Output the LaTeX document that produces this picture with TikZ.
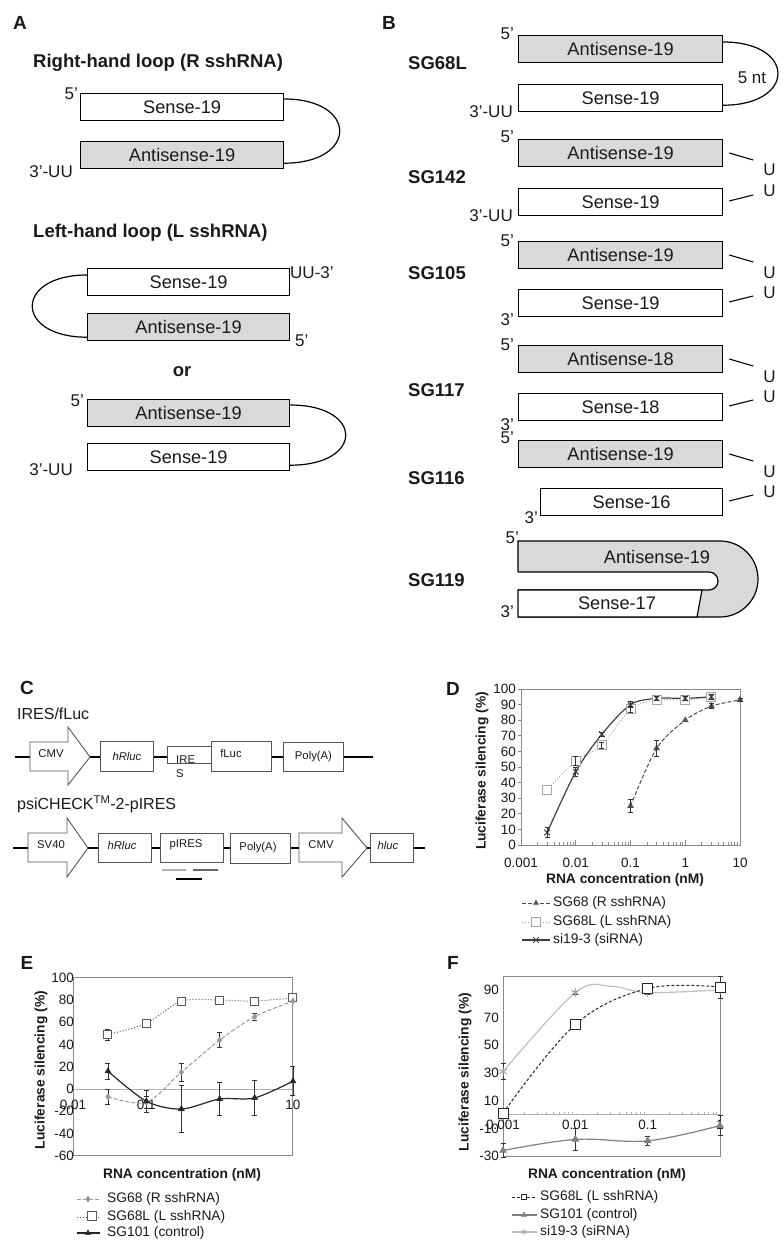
\documentclass[tikz,border=0pt]{standalone}
\usepackage{fontspec}
\setmainfont{Liberation Sans}
\usetikzlibrary{plotmarks,calc}
\definecolor{asg}{HTML}{D9D9D9}
\definecolor{txt}{HTML}{1A1A1A}
\definecolor{frmc}{HTML}{8A8A8A}
\definecolor{cgr}{HTML}{555555}
\newcommand\myBox{\fontsize{18.2}{20}\selectfont}
\newcommand\myLab{\fontsize{18.5}{20}\selectfont\bfseries}
\newcommand\myEnd{\fontsize{17}{19}\selectfont}
\newcommand\myCon{\fontsize{11.3}{13}\selectfont}
\newcommand\myName{\fontsize{16}{18}\selectfont}
\newcommand\myTick{\fontsize{13.5}{15}\selectfont}
\newcommand\myAx{\fontsize{13.8}{15}\selectfont\bfseries}
\newcommand\myLeg{\fontsize{13.8}{15}\selectfont}
\newcommand\myPan{\fontsize{19}{21}\selectfont\bfseries}
\newcommand\ebar[3]{\draw[errb] ([xshift=-2.5pt]#1,#2-#3) -- ([xshift=2.5pt]#1,#2-#3) ([xshift=-2.5pt]#1,#2+#3) -- ([xshift=2.5pt]#1,#2+#3) (#1,#2-#3) -- (#1,#2+#3);}
\newcommand\uDown[1]{\draw[uline] ([xshift=6pt,yshift=-14pt]#1.north east) -- ([xshift=30pt,yshift=-21pt]#1.north east);
  \node[endl, anchor=base west] at ([xshift=40pt,yshift=-37pt]#1.north east) {U};}
\newcommand\uUp[1]{\draw[uline] ([xshift=6pt,yshift=-13pt]#1.north east) -- ([xshift=30pt,yshift=-7pt]#1.north east);
  \node[endl, anchor=base west] at ([xshift=40pt,yshift=-9pt]#1.north east) {U};}
\tikzset{
  box/.style={draw=black, line width=1.2pt, minimum height=27pt, inner sep=0pt, anchor=north west, font=\myBox},
  asbox/.style={box, fill=asg, minimum width=204pt},
  ssbox/.style={box, fill=white, minimum width=204pt},
  loopl/.style={line width=1.2pt},
  endl/.style={font=\myEnd},
  uline/.style={line width=1.1pt},
  sglab/.style={font=\myLab, anchor=west},
  pan/.style={font=\myPan},
  cbox/.style={draw=cgr, line width=0.9pt, fill=white, inner sep=0pt, anchor=north west, font=\myCon},
  arrowbox/.style={draw=cgr, line width=0.9pt, fill=white},
  bb/.style={line width=2pt},
  frm/.style={draw=frmc, line width=1pt},
  zl/.style={draw=black!30, line width=0.9pt},
  errb/.style={draw=black!80, line width=0.8pt, solid},
  tick/.style={font=\myTick},
  legt/.style={font=\myLeg, anchor=west},
  dA/.style={draw=black!70, line width=1pt, dash pattern=on 4pt off 2pt},
  dB/.style={draw=black!35, line width=1pt, dotted},
  dC/.style={draw=black!75, line width=1.2pt},
  eA/.style={draw=black!40, line width=1pt, dash pattern=on 4pt off 2pt},
  eB/.style={draw=black!65, line width=1pt, dotted},
  eC/.style={draw=black!85, line width=1.2pt},
  fA/.style={draw=black!85, line width=1pt, dash pattern=on 3pt off 2pt},
  fB/.style={draw=black!50, line width=1.2pt},
  fC/.style={draw=black!25, line width=1.2pt},
}
\begin{document}
\begin{tikzpicture}[x=1pt,y=-1pt, every node/.append style={text=txt, inner sep=0pt}]
\useasboundingbox (0,0) rectangle (782,1241);

% ================= Panel A =================
\node[pan] (labA) at (20,23) {A};
\node[sglab] (tA1) at (33,63) {Right-hand loop (R sshRNA)};
\node[ssbox, minimum width=203pt] (s1) at (80,93) {Sense-19};
\node[asbox, minimum width=203pt] (a1) at (80,141) {Antisense-19};
\node[endl, anchor=base east] (e1) at (78,100) {5'};
\node[endl, anchor=base east] (e2) at (73,178) {3'-UU};
\draw[loopl] ([yshift=-6pt]s1.north east) .. controls +(74,0) and +(74,0) .. ([yshift=6pt]a1.south east);

\node[sglab] (tA2) at (33,233) {Left-hand loop (L sshRNA)};
\node[ssbox, minimum width=202pt] (s2) at (87,268) {Sense-19};
\node[asbox, minimum width=202pt] (a2) at (87,313) {Antisense-19};
\node[endl, anchor=base west] (e3) at (290,278) {UU-3'};
\node[endl, anchor=base west] (e4) at (295,346) {5'};
\draw[loopl] ([yshift=-7pt]s2.north west) .. controls +(-73,0) and +(-73,0) .. ([yshift=4pt]a2.south west);
\node[font=\myLab] (or) at (182,372) {or};
\node[asbox, minimum width=202pt] (a3) at (87,399) {Antisense-19};
\node[ssbox, minimum width=202pt] (s3) at (87,443) {Sense-19};
\node[endl, anchor=base east] (e5) at (84,406) {5'};
\node[endl, anchor=base east] (e6) at (73,475) {3'-UU};
\draw[loopl] ([yshift=-6pt]a3.north east) .. controls +(74,0) and +(74,0) .. ([yshift=6pt]s3.south east);

% ================= Panel B =================
\node[pan] (labB) at (389,23) {B};
% SG68L
\node[sglab] (n1) at (408,63) {SG68L};
\node[asbox] (b1a) at (518,35) {Antisense-19};
\node[ssbox] (b1s) at (518,84) {Sense-19};
\node[endl, anchor=base east] at (514,40) {5'};
\node[endl, anchor=base east] at (513,118) {3'-UU};
\draw[loopl] ([yshift=-7pt]b1a.north east) .. controls +(73,0) and +(73,0) .. ([yshift=7pt]b1s.south east);
\node[endl] (nt) at (752,78) {5 nt};
% SG142
\node[sglab] (n2) at (408,177) {SG142};
\node[asbox] (b2a) at (518,139) {Antisense-19};
\node[ssbox] (b2s) at (518,188) {Sense-19};
\node[endl, anchor=base east] at (514,143) {5'};
\node[endl, anchor=base east] at (513,222) {3'-UU};
\uDown{b2a}
\uUp{b2s}
% SG105
\node[sglab] (n3) at (408,273) {SG105};
\node[asbox] (b3a) at (518,241) {Antisense-19};
\node[ssbox] (b3s) at (518,289) {Sense-19};
\node[endl, anchor=base east] at (514,247) {5'};
\node[endl, anchor=base east] at (514,325) {3'};
\uDown{b3a}
\uUp{b3s}
% SG117
\node[sglab] (n4) at (408,390) {SG117};
\node[asbox] (b4a) at (518,345) {Antisense-18};
\node[ssbox] (b4s) at (518,393) {Sense-18};
\node[endl, anchor=base east] at (514,350) {5'};
\node[endl, anchor=base east] at (514,430) {3'};
\uDown{b4a}
\uUp{b4s}
% SG116
\node[sglab] (n5) at (408,478) {SG116};
\node[asbox] (b5a) at (518,440) {Antisense-19};
\node[ssbox, minimum width=182pt] (b5s) at (540,488) {Sense-16};
\node[endl, anchor=base east] at (514,443) {5'};
\node[endl, anchor=base east] at (538,523) {3'};
\uDown{b5a}
\uUp{b5s}
% SG119
\node[sglab] (n6) at (408,580) {SG119};
\fill[asg] (518,541) -- (720,541) arc[start angle=90, end angle=-90, radius=38pt] -- (518,617) -- cycle;
\fill[white] (518,572) -- (709,572) arc[start angle=90, end angle=-90, radius=9pt] -- (518,590) -- cycle;
\draw[line width=1.2pt] (518,572) -- (518,541) -- (720,541) arc[start angle=90, end angle=-90, radius=38pt] -- (518,617);
\draw[line width=1.2pt] (518,572) -- (709,572) arc[start angle=90, end angle=-90, radius=9pt] -- (518,590);
\filldraw[fill=white, line width=1.2pt] (518,590) -- (702,590) -- (697,617) -- (518,617) -- cycle;
\node[font=\myBox] (b6a) at (657,557) {Antisense-19};
\node[font=\myBox] (b6s) at (617,603) {Sense-17};
\node[endl, anchor=base east] at (519,543) {5'};
\node[endl, anchor=base east] at (514,617) {3'};

% ================= Panel C =================
\node[pan] (labC) at (27,688) {C};
\node[font=\myName, anchor=west] (c1) at (17,714) {IRES/fLuc};
\draw[bb] (15,757) -- (373,757);
\filldraw[arrowbox] (30,742) -- (68,742) -- (68,727) -- (90,757) -- (68,785) -- (68,771) -- (30,771) -- cycle;
\node[font=\myCon] (cmv1) at (51,754) {CMV};
\node[cbox, minimum width=53pt, minimum height=30pt] (hr1) at (100,741) {\itshape hRluc};
\node[cbox, minimum width=44pt, minimum height=17pt] (ires1) at (167,746) {};
\node[font=\myCon, anchor=base west] (ireA) at (176,763) {IRE};
\node[font=\myCon, anchor=base west] (ireB) at (176,777) {S};
\node[cbox, minimum width=60pt, minimum height=30pt] (fl1) at (211,741) {};
\node[font=\myCon] (flt) at (231,753) {fLuc};
\node[cbox, minimum width=60pt, minimum height=29pt] (pa1) at (283,742) {Poly(A)};

\node[font=\myName, anchor=west] (c2) at (17,804) {psiCHECK\textsuperscript{TM}-2-pIRES};
\draw[bb] (13,848) -- (425,848);
\filldraw[arrowbox] (28,833) -- (67,833) -- (67,818) -- (88,848) -- (67,877) -- (67,862) -- (28,862) -- cycle;
\node[font=\myCon] (sv40) at (51,845) {SV40};
\node[cbox, minimum width=53pt, minimum height=29pt] (hr2) at (98,833) {};
\node[font=\myCon] (hr2t) at (122,845) {\itshape hRluc};
\node[cbox, minimum width=63pt, minimum height=29pt] (pires) at (160,833) {};
\node[font=\myCon] (pirest) at (186,845) {pIRES};
\node[cbox, minimum width=60pt, minimum height=30pt] (pa2) at (230,833) {};
\node[font=\myCon] (pa2t) at (258,848) {Poly(A)};
\filldraw[arrowbox] (299,833) -- (342,833) -- (342,818) -- (367,848) -- (342,877) -- (342,862) -- (299,862) -- cycle;
\node[font=\myCon] (cmv2) at (321,845) {CMV};
\node[cbox, minimum width=43pt, minimum height=29pt] (hl) at (370,833) {};
\node[font=\myCon] (hlt) at (388,845) {\itshape hluc};
\draw[line width=2pt, black!30] (162,870) -- (186,870);
\draw[line width=2pt, black!60] (193,870) -- (218,870);
\draw[line width=2pt, black] (176,879) -- (202,879);

% ================= Panel D =================
\node[pan] (labD) at (453,689) {D};
\begin{scope}[shift={(521,845)}, x=54.75pt, y=1.56pt]
  \draw[frm] (0,0) rectangle (4,100);
  \foreach \v in {0,10,...,100} {
    \draw[frm] (0,\v) -- ++(-3pt,0);
    \node[tick, anchor=east] at ([xshift=-5pt]0,\v) {\v};
  }
  \foreach \d/\lab in {0/0.001,1/0.01,2/0.1,3/1,4/10} \node[tick] at (\d,-11.5) {\lab};
  \foreach \d in {0,1,2,3} {
    \foreach \k in {2,...,9} \draw[frm, line width=0.7pt] ({\d+log10(\k)},0) -- ++(0,3pt);
  }
  \foreach \d in {1,2,3} \draw[frm] (\d,0) -- ++(0,5pt);
  % SG68L (dotted, squares)
  \draw[dB] plot[smooth, tension=0.5] coordinates {(0.477,35) (1,54) (1.477,64) (2,87) (2.477,93) (3,93) (3.477,95)};
  % si19-3 (solid, x)
  \draw[dC] plot[smooth, tension=0.5] coordinates {(0.477,8) (1,47) (1.477,71) (2,90) (2.477,94) (3,94) (3.477,95)};
  % SG68 (dashed, triangles)
  \draw[dA] plot[smooth, tension=0.5] coordinates {(2,25) (2.477,62) (3,80) (3.477,89) (4,93)};
  \draw plot[only marks, mark=square*, mark size=4.5pt, mark options={fill=white, draw=black!35, line width=1pt, solid}] coordinates {(0.477,35) (1,54) (1.477,64) (2,87) (2.477,93) (3,93) (3.477,95)};
  \draw plot[only marks, mark=x, mark size=4pt, mark options={draw=black!75, line width=1pt, solid}] coordinates {(0.477,8) (1,47) (1.477,71) (2,90) (2.477,94) (3,94) (3.477,95)};
  \draw plot[only marks, mark=triangle*, mark size=3.5pt, mark options={fill=black!65, draw=black!65, solid}] coordinates {(2,25) (2.477,62) (3,80) (3.477,89) (4,93)};
  \ebar{0.477}{8}{3} \ebar{1}{47}{3} \ebar{1}{54}{3} \ebar{1.477}{64}{2} \ebar{1.477}{71}{1.5}
  \ebar{2}{90}{2} \ebar{2}{87}{2} \ebar{2.477}{94}{1} \ebar{3}{94}{1} \ebar{3.477}{95}{1.5}
  \ebar{2}{25}{4} \ebar{2.477}{62}{5} \ebar{3.477}{89}{1.5} \ebar{4}{93}{1}
\end{scope}
\node[font=\myAx, rotate=90] (dyl) at (482,771) {Luciferase silencing (\%)};
\node[font=\myAx] (dxl) at (625,880) {RNA concentration (nM)};
\draw[dA] (522,903) -- (550,903);
\draw plot[only marks, mark=triangle*, mark size=3pt, mark options={fill=black!65, draw=black!65, solid}] coordinates {(536,903)};
\node[legt] at (553,903) {SG68 (R sshRNA)};
\draw[dB] (522,922) -- (550,922);
\draw plot[only marks, mark=square*, mark size=4.5pt, mark options={fill=white, draw=black!35, line width=1pt, solid}] coordinates {(536,922)};
\node[legt] at (553,922) {SG68L (L sshRNA)};
\draw[dC] (522,940) -- (550,940);
\draw plot[only marks, mark=x, mark size=4pt, mark options={draw=black!75, line width=1pt, solid}] coordinates {(536,940)};
\node[legt] at (553,940) {si19-3 (siRNA)};

% ================= Panel E =================
\node[pan] (labE) at (27,963) {E};
\begin{scope}[shift={(73,1089)}, x=73.33pt, y=1.1125pt]
  \draw[zl] (0,0) -- (3,0);
  \draw[frm] (0,-60) rectangle (3,100);
  \foreach \v in {-60,-40,...,100} \node[tick, anchor=east] at ([xshift=1pt]0,\v) {\v};
  \node[tick] at (0,-14.4) {0.01};
  \node[tick] at (1,-14.4) {0.1};
  \node[tick] at (3,-14.4) {10};
  % SG68L dotted squares
  \draw[eB] plot[smooth, tension=0.5] coordinates {(0.477,49) (1,59) (1.477,79) (2,80) (2.477,79) (3,82)};
  % SG68 dashed diamonds
  \draw[eA] plot[smooth, tension=0.5] coordinates {(0.477,-7) (1,-12) (1.477,15) (2,44) (2.477,65) (3,79)};
  % SG101 solid triangles
  \draw[eC] plot[smooth, tension=0.5] coordinates {(0.477,16) (1,-11) (1.477,-18) (2,-9) (2.477,-8) (3,7)};
  \ebar{0.477}{16}{7} \ebar{1}{-11}{10} \ebar{1.477}{-18}{21} \ebar{2}{-9}{15} \ebar{2.477}{-8}{16} \ebar{3}{7}{13}
  \ebar{0.477}{-7}{7} \ebar{1}{-12}{5} \ebar{1.477}{15}{8} \ebar{2}{44}{7} \ebar{2.477}{65}{3}
  \ebar{0.477}{49}{5} \ebar{1}{59}{2} \ebar{1.477}{79}{2} \ebar{2}{80}{2} \ebar{2.477}{79}{2} \ebar{3}{82}{3}
  \draw plot[only marks, mark=square*, mark size=4pt, mark options={fill=white, draw=black!65, line width=1pt, solid}] coordinates {(0.477,49) (1,59) (1.477,79) (2,80) (2.477,79) (3,82)};
  \draw plot[only marks, mark=diamond*, mark size=3pt, mark options={fill=black!40, draw=black!40, solid}] coordinates {(0.477,-7) (1,-12) (1.477,15) (2,44) (2.477,65) (3,79)};
  \draw plot[only marks, mark=triangle*, mark size=3.5pt, mark options={fill=black!85, draw=black!85, solid}] coordinates {(0.477,16) (1,-11) (1.477,-18) (2,-9) (2.477,-8) (3,7)};
\end{scope}
\node[font=\myAx, rotate=90] (eyl) at (41,1070) {Luciferase silencing (\%)};
\node[font=\myAx] (exl) at (182,1175) {RNA concentration (nM)};
\draw[eA] (77,1199) -- (100,1199);
\draw plot[only marks, mark=diamond*, mark size=3pt, mark options={fill=black!40, draw=black!40, solid}] coordinates {(88,1199)};
\node[legt] at (107,1199) {SG68 (R sshRNA)};
\draw[eB] (77,1217) -- (100,1217);
\draw plot[only marks, mark=square*, mark size=4.5pt, mark options={fill=white, draw=black!65, line width=1pt, solid}] coordinates {(92,1216)};
\node[legt] at (107,1217) {SG68L (L sshRNA)};
\draw[eC] (77,1233) -- (100,1233);
\draw plot[only marks, mark=triangle*, mark size=3pt, mark options={fill=black!85, draw=black!85, solid}] coordinates {(88,1233)};
\node[legt] at (107,1233) {SG101 (control)};

% ================= Panel F =================
\node[pan] (labF) at (453,963) {F};
\begin{scope}[shift={(503,1114.5)}, x=72.33pt, y=1.385pt]
  \draw[zl] (0,0) -- (3,0);
  \foreach \d in {0,1,2} {
    \foreach \k in {2,...,9} \draw[zl, line width=0.6pt] ({\d+log10(\k)},0) -- ++(0,3pt);
  }
  \draw[frm] (0,-30) rectangle (3,100);
  \foreach \v in {90,70,50,30,10,-10,-30} \node[tick, anchor=east] at ([xshift=-4pt]0,\v) {\v};
  \node[tick] at (0,-7.6) {0.001};
  \node[tick] at (1,-7.6) {0.01};
  \node[tick] at (2,-7.6) {0.1};
  \node[tick] at (3,-7.6) {1};
  % si19-3 light
  \draw[fC] plot[smooth, tension=0.6] coordinates {(0,31) (1,88) (1.5,92.5) (2,88) (3,90)};
  % SG68L dashed squares
  \draw[fA] plot[smooth, tension=0.6] coordinates {(0,1) (1,65) (2,91) (3,92)};
  % SG101 solid gray triangles
  \draw[fB] plot[smooth, tension=0.6] coordinates {(0,-26) (1,-18) (2,-19) (3,-8)};
  \ebar{0}{31}{6} \ebar{0}{-26}{5} \ebar{1}{-18}{8} \ebar{2}{-19}{3} \ebar{3}{-8}{7} \ebar{3}{92}{8} \ebar{1}{88}{1} \ebar{2}{88}{1.5}
  \draw plot[only marks, mark=asterisk, mark size=4.5pt, mark options={draw=black!35, line width=1pt, solid}] coordinates {(0,31) (1,88) (2,88) (3,90)};
  \draw plot[only marks, mark=square*, mark size=5pt, mark options={fill=white, draw=black!85, line width=1pt, solid}] coordinates {(0,1) (1,65) (2,91) (3,92)};
  \draw plot[only marks, mark=triangle*, mark size=4pt, mark options={fill=black!50, draw=black!50, solid}] coordinates {(0,-26) (1,-18) (2,-19) (3,-8)};
\end{scope}
\node[font=\myAx, rotate=90] (fyl) at (465,1072) {Luciferase silencing (\%)};
\node[font=\myAx] (fxl) at (607,1175) {RNA concentration (nM)};
\draw[fA] (512,1197) -- (537,1197);
\draw plot[only marks, mark=square*, mark size=2.5pt, mark options={fill=white, draw=black!85, line width=0.8pt, solid}] coordinates {(524,1197)};
\node[legt] at (540,1197) {SG68L (L sshRNA)};
\draw[fB] (512,1215) -- (537,1215);
\draw plot[only marks, mark=triangle*, mark size=3pt, mark options={fill=black!50, draw=black!50, solid}] coordinates {(524,1215)};
\node[legt] at (540,1215) {SG101 (control)};
\draw[fC] (512,1232) -- (537,1232);
\draw plot[only marks, mark=asterisk, mark size=3pt, mark options={draw=black!35, line width=0.8pt, solid}] coordinates {(524,1232)};
\node[legt] at (540,1232) {si19-3 (siRNA)};
\end{tikzpicture}
\end{document}
